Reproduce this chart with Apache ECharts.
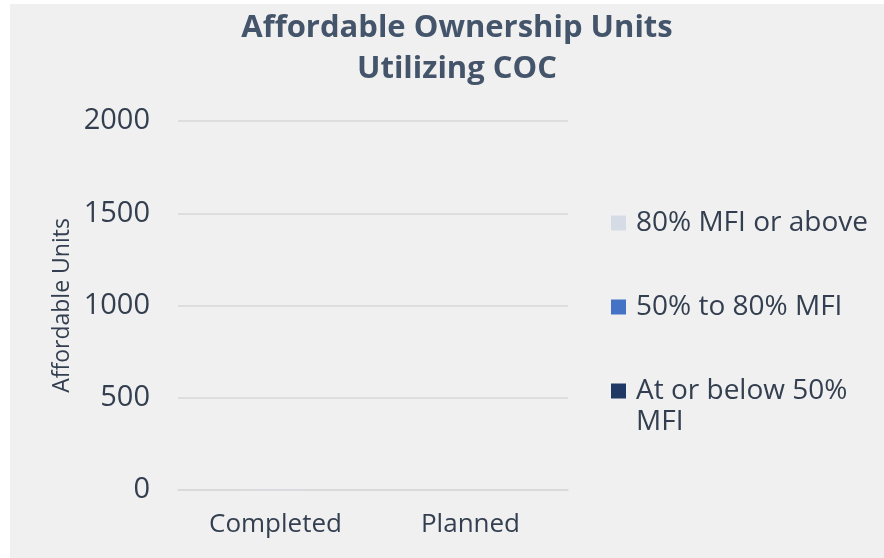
<!DOCTYPE html>
<html>
<head>
<meta charset="utf-8">
<script src="https://cdn.jsdelivr.net/npm/echarts@6/dist/echarts.min.js"></script>
<style>
  html, body { margin: 0; padding: 0; background: #ffffff; }
  #chart { position: absolute; left: 10px; top: 4px; width: 874px; height: 554px; background: #f0f0f0; }
</style>
</head>
<body>
<div id="chart"></div>
<script>
// chart data
var categories = ['Completed', 'Planned'];
var seriesNames = ['At or below 50% MFI', '50% to 80% MFI', '80% MFI or above'];
var below50 = [0, 0];
var mid50to80 = [0, 0];
var above80 = [3, 0];
var yTicks = [0, 500, 1000, 1500, 2000];

var colors = ['#1f3864', '#4472c4', '#d6dce5'];
var textColor = '#333f50';
var font = 'Open Sans';

var chart = echarts.init(document.getElementById('chart'));

function legendFor(name, top) {
  return {
    data: [name],
    orient: 'vertical',
    left: 596,
    top: top,
    icon: 'rect',
    itemWidth: 15,
    itemHeight: 15,
    itemGap: 0,
    selectedMode: false,
    formatter: function (n) { return n === 'At or below 50% MFI' ? 'At or below 50%' : n; },
    textStyle: { color: textColor, fontSize: 28, fontFamily: font, padding: [0, 0, 0, 5] }
  };
}

chart.setOption({
  color: colors,
  animation: false,
  title: {
    text: 'Affordable Ownership Units\nUtilizing COC',
    left: 442,
    top: -1,
    textAlign: 'center',
    textStyle: { color: '#44546a', fontSize: 31, fontWeight: 'bold', fontFamily: font, lineHeight: 41 }
  },
  legend: [
    legendFor('80% MFI or above', 200),
    legendFor('50% to 80% MFI', 284),
    legendFor('At or below 50% MFI', 368)
  ],
  graphic: [{
    type: 'text',
    left: 626,
    top: 404,
    style: { text: 'MFI', fill: textColor, font: '28px "' + font + '"' }
  }],
  grid: { left: 168, right: 316, top: 117, bottom: 68 },
  xAxis: {
    type: 'category',
    data: categories,
    axisLine: { show: true, lineStyle: { color: '#d9d9d9', width: 1.5 } },
    axisTick: { show: false },
    axisLabel: { color: textColor, fontSize: 26, fontFamily: font, margin: 22 }
  },
  yAxis: {
    type: 'value',
    min: yTicks[0],
    max: yTicks[yTicks.length - 1],
    interval: yTicks[1] - yTicks[0],
    name: 'Affordable Units',
    nameLocation: 'middle',
    nameGap: 104,
    nameTextStyle: { color: textColor, fontSize: 23, fontFamily: font },
    axisLine: { show: false },
    axisTick: { show: false },
    axisLabel: { color: textColor, fontSize: 29, fontFamily: font, margin: 28, formatter: function (v) { return String(v); } },
    splitLine: { lineStyle: { color: '#d9d9d9', width: 1.5 } }
  },
  series: [
    { name: seriesNames[0], type: 'bar', stack: 'u', data: below50, barWidth: '32%' },
    { name: seriesNames[1], type: 'bar', stack: 'u', data: mid50to80, barWidth: '32%' },
    { name: seriesNames[2], type: 'bar', stack: 'u', data: above80, barWidth: '32%' }
  ]
});
</script>
</body>
</html>
